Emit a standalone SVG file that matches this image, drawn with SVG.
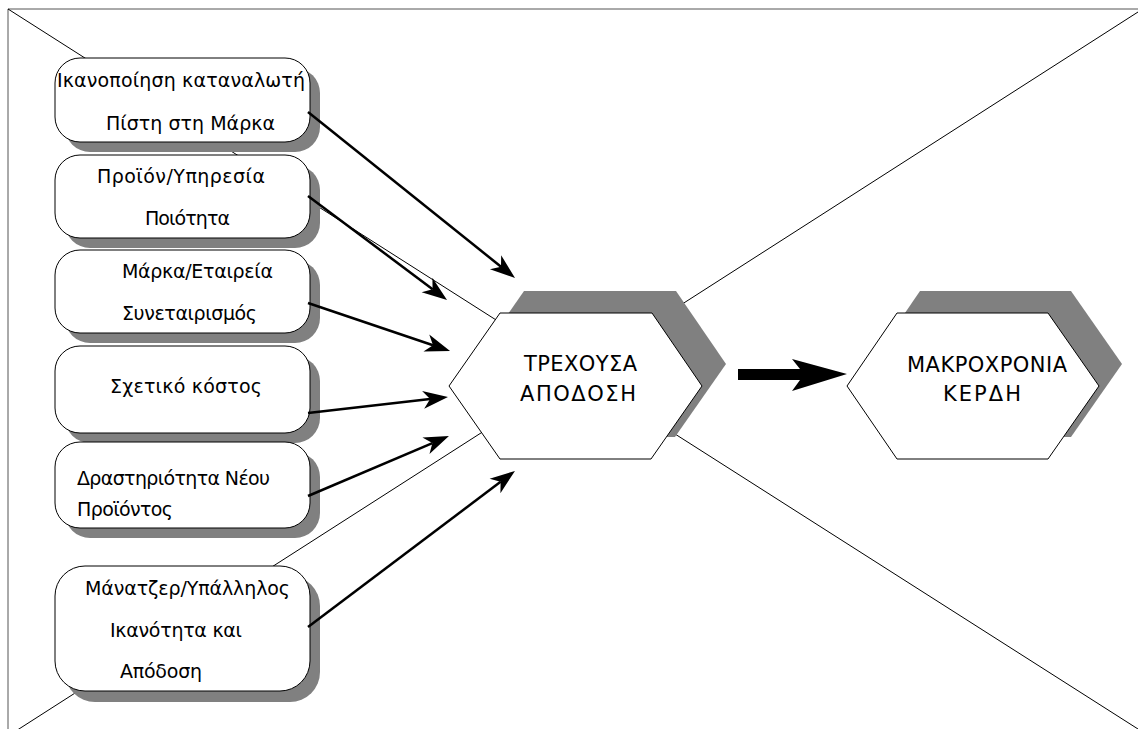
<svg xmlns="http://www.w3.org/2000/svg" width="1138" height="729" viewBox="0 0 1138 729">
<style>
.frame{stroke:#555;stroke-width:1;fill:none}
.diag{stroke:#000;stroke-width:1;fill:none}
.shadow{fill:#808080;stroke:none}
.box{fill:#fff;stroke:#000;stroke-width:1}
.t{font-family:"DejaVu Sans","Liberation Sans",sans-serif;font-size:19px;fill:#000}
.h{font-family:"DejaVu Sans","Liberation Sans",sans-serif;font-size:21px;fill:#000}
.conn{stroke:#000;stroke-width:2.5;fill:none;marker-end:url(#ah)}
</style>
<defs>
<marker id="ah" markerUnits="userSpaceOnUse" markerWidth="28" markerHeight="22" viewBox="0 -10 28 20" refX="7" refY="0" orient="auto">
<path d="M0,-9 L25,0 L0,9 L7,0 Z" fill="#000"/>
</marker>
</defs>
<rect width="1138" height="729" fill="#fff"/>
<g id="background">
<line class="frame" x1="8" y1="9" x2="1138" y2="9"/>
<line class="frame" x1="8" y1="9" x2="8" y2="729"/>
<line class="diag" x1="8" y1="9" x2="1138" y2="729"/>
<line class="diag" x1="8" y1="736" x2="1138" y2="12"/>
</g>
<g id="n1">
<rect class="shadow" x="65" y="68" width="255" height="84" rx="25"/>
<rect class="box" x="55" y="58" width="255" height="84" rx="25"/>
<text class="t" x="57" y="87" textLength="248">Ικανοποίηση καταναλωτή</text>
<text class="t" x="106" y="130" textLength="169">Πίστη στη Μάρκα</text>
</g>
<g id="n2">
<rect class="shadow" x="65" y="165" width="255" height="83" rx="25"/>
<rect class="box" x="55" y="155" width="255" height="83" rx="25"/>
<text class="t" x="97" y="183" textLength="168">Προϊόν/Υπηρεσία</text>
<text class="t" x="145" y="225" textLength="85">Ποιότητα</text>
</g>
<g id="n3">
<rect class="shadow" x="65" y="260" width="255" height="83" rx="25"/>
<rect class="box" x="55" y="250" width="255" height="83" rx="25"/>
<text class="t" x="122" y="278" textLength="151">Μάρκα/Εταιρεία</text>
<text class="t" x="122" y="320" textLength="135">Συνεταιρισμός</text>
</g>
<g id="n4">
<rect class="shadow" x="65" y="356" width="255" height="87" rx="25"/>
<rect class="box" x="55" y="346" width="255" height="87" rx="25"/>
<text class="t" x="110" y="393" textLength="152">Σχετικό κόστος</text>
</g>
<g id="n5">
<rect class="shadow" x="65" y="452" width="255" height="86" rx="25"/>
<rect class="box" x="55" y="442" width="255" height="86" rx="25"/>
<text class="t" x="77" y="485" textLength="193">Δραστηριότητα Νέου</text>
<text class="t" x="77" y="516" textLength="96">Προϊόντος</text>
</g>
<g id="n6">
<rect class="shadow" x="65" y="576" width="255" height="126" rx="30"/>
<rect class="box" x="55" y="566" width="255" height="125" rx="30"/>
<text class="t" x="85" y="595" textLength="205">Μάνατζερ/Υπάλληλος</text>
<text class="t" x="110" y="637" textLength="132">Ικανότητα και</text>
<text class="t" x="120" y="678" textLength="82">Απόδοση</text>
</g>
<g id="hex1">
<polygon class="shadow" points="473,364 524,291 676,291 726,364 675,437 524,437"/>
<polygon class="box" points="449,386 500,313 652,313 702,386 651,459 500,459"/>
<text class="h" x="524" y="371" textLength="113">ΤΡΕΧΟΥΣΑ</text>
<text class="h" x="520" y="401" textLength="116">ΑΠΟΔΟΣΗ</text>
</g>
<g id="hex2">
<polygon class="shadow" points="870,364 920,291 1071,291 1122,364 1071,437 920,437"/>
<polygon class="box" points="847,386 897,313 1048,313 1099,386 1048,459 897,459"/>
<text class="h" x="907" y="372" textLength="160">ΜΑΚΡΟΧΡΟΝΙΑ</text>
<text class="h" x="943" y="401" textLength="78">ΚΕΡΔΗ</text>
</g>
<g id="connectors">
<line class="conn" x1="308" y1="112" x2="501" y2="266.7"/>
<line class="conn" x1="308" y1="196" x2="432.6" y2="289.2"/>
<line class="conn" x1="308" y1="303" x2="433" y2="345.2"/>
<line class="conn" x1="308" y1="413" x2="430.1" y2="399.1"/>
<line class="conn" x1="308" y1="496" x2="432.4" y2="443.1"/>
<line class="conn" x1="308" y1="627" x2="500.6" y2="481.8"/>
<polygon points="738,369 800,369 792,359 847,374 792,391 800,380 738,380" fill="#000"/>
</g>
</svg>
